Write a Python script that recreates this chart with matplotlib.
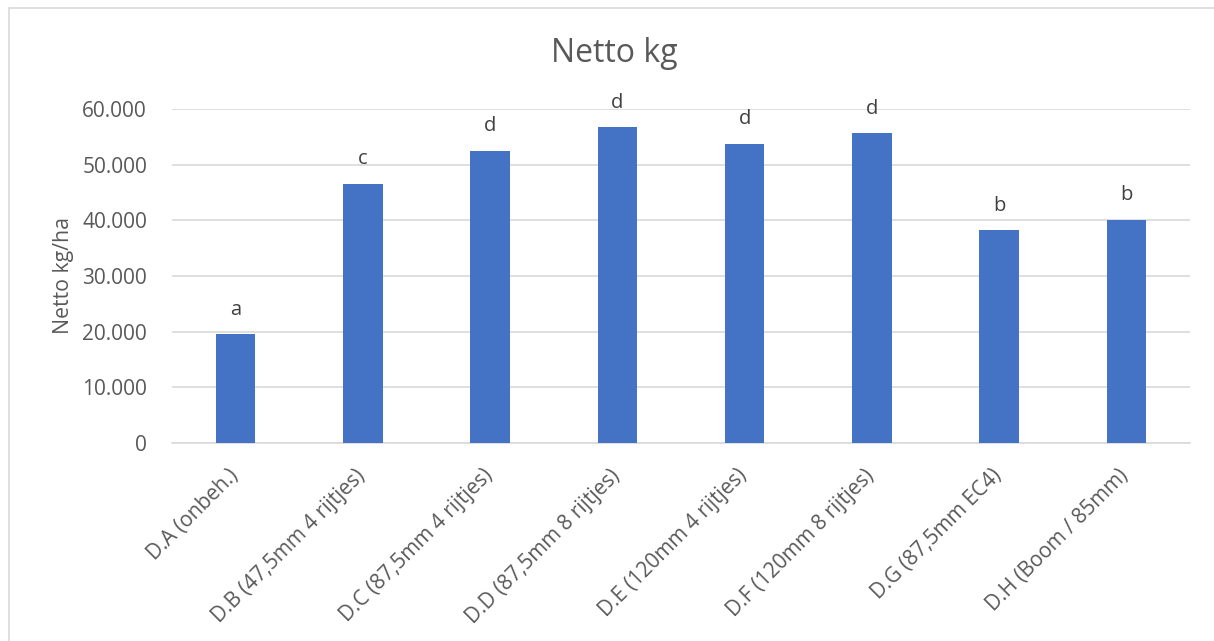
import numpy as np
import matplotlib.pyplot as plt
from matplotlib.patches import Rectangle
from matplotlib.transforms import ScaledTranslation

categories = ['D.A (onbeh.)', 'D.B (47,5mm 4 rijtjes)', 'D.C (87,5mm 4 rijtjes)',
              'D.D (87,5mm 8 rijtjes)', 'D.E (120mm 4 rijtjes)', 'D.F (120mm 8 rijtjes)',
              'D.G (87,5mm EC4)', 'D.H (Boom / 85mm)']
netto = [19500, 46600, 52500, 56700, 53800, 55600, 38200, 40100]
letters = ['a', 'c', 'd', 'd', 'd', 'd', 'b', 'b']
yticks = [0, 10000, 20000, 30000, 40000, 50000, 60000]

plt.rcParams['font.family'] = ['Open Sans', 'DejaVu Sans']

fig = plt.figure(figsize=(12.14, 6.41), dpi=100)
ax = fig.add_axes([172 / 1214, 1 - 443 / 641, 1018 / 1214, 334 / 641])

# chart border (cropped at right/bottom)
fig.patches.append(Rectangle((9 / 1214, -0.1), 1.2, 1 - 8 / 641 + 0.1,
                             transform=fig.transFigure, fill=False,
                             edgecolor='#d9d9d9', linewidth=1.2))

x = np.arange(len(categories))
bars = ax.bar(x, netto, width=0.31, color='#4472c4', zorder=3)
for xi, v, l in zip(x, netto, letters):
    ax.annotate(l, (xi, v), xytext=(0, 14), textcoords='offset points',
                ha='center', va='baseline', fontsize=14.5, color='#404040')

ax.set_xlim(-0.5, len(categories) - 0.5)
ax.set_ylim(0, 60000)
ax.set_yticks(yticks)
ax.set_yticklabels(['0' if t == 0 else f'{t // 1000}.000' for t in yticks])
ax.yaxis.grid(True, color='#d9d9d9', linewidth=1.2, zorder=0)
for s in ['top', 'right', 'left']:
    ax.spines[s].set_visible(False)
ax.spines['bottom'].set_color('#d9d9d9')
ax.spines['bottom'].set_linewidth(1.2)
ax.tick_params(axis='both', length=0, colors='#595959', labelsize=15)
ax.tick_params(axis='y', pad=18)

ax.set_xticks(x)
ax.set_xticklabels(categories, rotation=45, ha='right', va='top',
                   rotation_mode='anchor')
ax.tick_params(axis='x', pad=16)
shift = ScaledTranslation(-8 / 100, 0, fig.dpi_scale_trans)
for lab in ax.get_xticklabels():
    lab.set_transform(lab.get_transform() + shift)

ax.set_ylabel('Netto kg/ha', fontsize=15.3, color='#595959', labelpad=6)
fig.text(614 / 1214, 1 - 54 / 641, 'Netto kg', ha='center', va='center',
         fontsize=23, color='#595959')

fig.savefig('out.png', dpi=100)
